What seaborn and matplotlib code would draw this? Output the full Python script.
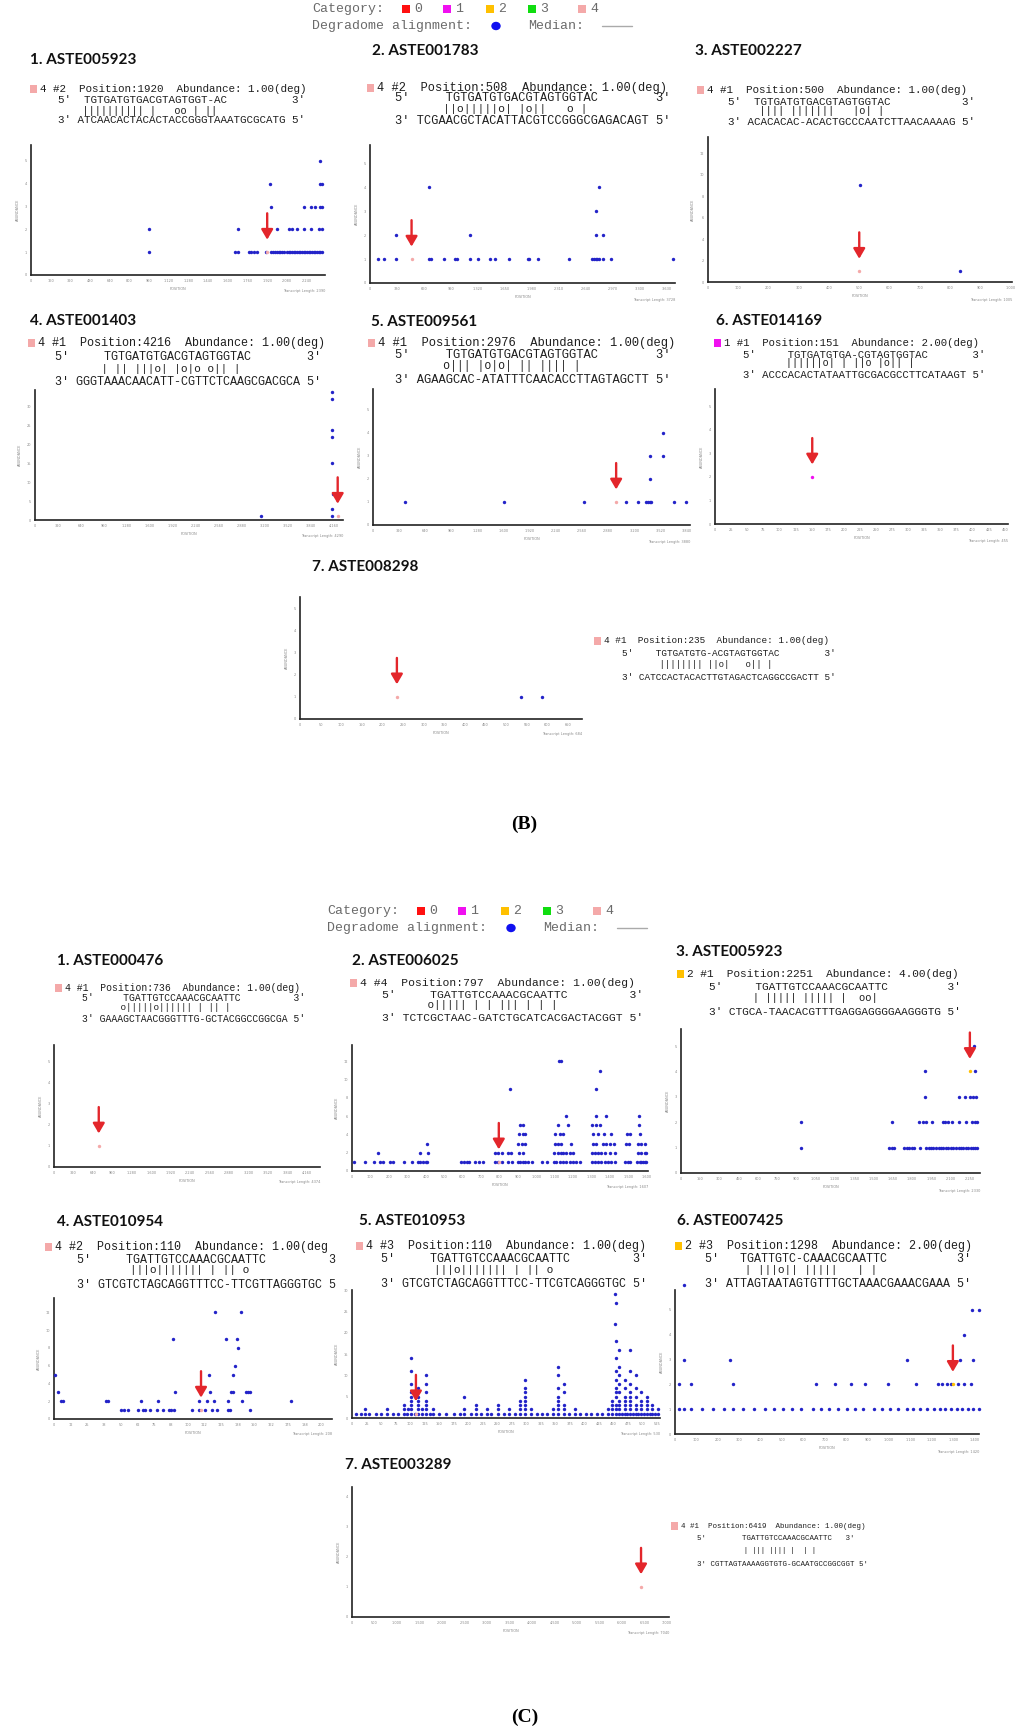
"""
Degradome t-plots for miRNA targets, panels (B) and (C)
"""

import numpy as np
import pandas as pd
import matplotlib
matplotlib.use('Agg')
import matplotlib.pyplot as plt
from matplotlib.patches import Rectangle, Ellipse
from matplotlib.lines import Line2D
import seaborn as sns

# ---------------- data ----------------
CATEGORIES = [0, 1, 2, 3, 4]

# dots: abundance -> positions ; site: (position, abundance, category)
B1_DOTS = {1: [960, 1662, 1679, 1776, 1790, 1809, 1836, 1909, 1950, 1965, 1980, 1999, 2015, 2026, 2040, 2053,
               2085, 2095, 2107, 2120, 2134, 2147, 2161, 2175, 2189, 2202, 2216, 2229, 2243, 2256, 2270, 2283,
               2297, 2310, 2324, 2338, 2346, 2365],
           2: [960, 1679, 1999, 2094, 2121, 2161, 2221, 2275, 2338, 2365],
           3: [1950, 2221, 2275, 2311, 2346, 2365],
           4: [1945, 2346, 2365],
           5: [2346]}
B1_SITE = (1920, 1, 4)
B1_HIT = ('4 #2  Position:1920  Abundance: 1.00(deg)', 'TGTGATGTGACGTAGTGGT-AC',
          '|||||||||| |   oo | ||', 'ATCAACACTACACTACCGGGTAAATGCGCATG')
B1_LEN = 2390

B2_DOTS = {1: [94, 175, 314, 725, 740, 908, 1039, 1059, 1222, 1324, 1467, 1528, 1699, 1927, 1947, 2049, 2436,
               2717, 2738, 2758, 2778, 2799, 2844, 2941, 3707],
           2: [314, 1222, 2758, 2844],
           3: [2758],
           4: [725, 2799]}
B2_SITE = (508, 1, 4)
B2_HIT = ('4 #2  Position:508  Abundance: 1.00(deg)', 'TGTGATGTGACGTAGTGGTAC',
          '||o|||||o| |o||   o |', 'TCGAACGCTACATTACGTCCGGGCGAGACAGT')
B2_LEN = 3728

B3_DOTS = {9: [502], 1: [833]}
B3_SITE = (500, 1, 4)
B3_HIT = ('4 #1  Position:500  Abundance: 1.00(deg)', 'TGTGATGTGACGTAGTGGTAC',
          '|||| |||||||   |o| |', 'ACACACAC-ACACTGCCCAATCTTAACAAAAG')
B3_LEN = 1005

B4_DOTS = {34: [4137], 32: [4137], 24: [4137], 22: [4137], 15: [4137], 7: [4150], 3: [4137], 1: [3154, 4137]}
B4_SITE = (4216, 1, 4)
B4_HIT = ('4 #1  Position:4216  Abundance: 1.00(deg)', 'TGTGATGTGACGTAGTGGTAC',
          '| || |||o| |o|o o|| |', 'GGGTAAACAACATT-CGTTCTCAAGCGACGCA')
B4_LEN = 4290

B5_DOTS = {1: [387, 1600, 2577, 3102, 3249, 3346, 3367, 3387, 3408, 3684, 3827],
           2: [3387], 3: [3387, 3554], 4: [3554]}
B5_SITE = (2976, 1, 4)
B5_HIT = ('4 #1  Position:2976  Abundance: 1.00(deg)', 'TGTGATGTGACGTAGTGGTAC',
          'o||| |o|o| || |||| |', 'AGAAGCAC-ATATTTCAACACCTTAGTAGCTT')
B5_LEN = 3880

B6_DOTS = {}
B6_SITE = (151, 2, 1)
B6_HIT = ('1 #1  Position:151  Abundance: 2.00(deg)', 'TGTGATGTGA-CGTAGTGGTAC',
          '||||||o| | ||o |o|| |', 'ACCCACACTATAATTGCGACGCCTTCATAAGT')
B6_LEN = 455

B7_DOTS = {1: [537, 587]}
B7_SITE = (235, 1, 4)
B7_HIT = ('4 #1  Position:235  Abundance: 1.00(deg)', 'TGTGATGTG-ACGTAGTGGTAC',
          '|||||||| ||o|   o|| |', 'CATCCACTACACTTGTAGACTCAGGCCGACTT')
B7_LEN = 684

C1_DOTS = {}
C1_SITE = (736, 1, 4)
C1_HIT = ('4 #1  Position:736  Abundance: 1.00(deg)', 'TGATTGTCCAAACGCAATTC',
          'o|||||o|||||| | || |', 'GAAAGCTAACGGGTTTG-GCTACGGCCGGCGA')
C1_LEN = 4374

C2_DOTS = {1: [13, 72, 121, 153, 171, 208, 220, 280, 325, 356, 370, 384, 401, 406, 590, 608, 623, 637, 668, 691,
               713, 776, 794, 812, 848, 866, 903, 912, 926, 939, 957, 975, 1034, 1056, 1097, 1110, 1128, 1146,
               1164, 1182, 1200, 1218, 1236, 1303, 1318, 1336, 1354, 1372, 1390, 1408, 1426, 1484, 1498, 1511,
               1549, 1561, 1570, 1579, 1588, 1597],
           2: [139, 370, 410, 776, 794, 812, 848, 861, 908, 926, 1097, 1119, 1132, 1146, 1164, 1182, 1200, 1303,
               1318, 1336, 1354, 1372, 1399, 1426, 1552, 1570, 1588, 1597],
           3: [406, 903, 921, 939, 1101, 1119, 1137, 1191, 1309, 1327, 1363, 1381, 1402, 1421, 1489, 1504, 1552,
               1570, 1588],
           4: [908, 926, 939, 1101, 1128, 1146, 1309, 1336, 1368, 1408, 1493, 1507, 1561],
           5: [912, 930, 1119, 1173, 1303, 1323, 1345, 1556],
           6: [1164, 1327, 1377, 1558],
           9: [857, 1323],
           11: [1345],
           12: [1125, 1137]}
C2_SITE = (797, 1, 4)
C2_HIT = ('4 #4  Position:797  Abundance: 1.00(deg)', 'TGATTGTCCAAACGCAATTC',
          'o||||| | | ||| | | |', 'TCTCGCTAAC-GATCTGCATCACGACTACGGT')
C2_LEN = 1607

C3_DOTS = {1: [939, 1624, 1642, 1658, 1740, 1758, 1779, 1800, 1818, 1862, 1908, 1929, 1947, 1965, 1986, 2007,
               2025, 2043, 2064, 2082, 2102, 2121, 2141, 2167, 2185, 2201, 2219, 2237, 2258, 2276, 2291, 2309],
           2: [939, 1642, 1857, 1883, 1908, 1955, 2038, 2058, 2079, 2115, 2167, 2219, 2271, 2291, 2309],
           3: [1901, 2167, 2214, 2250, 2278, 2296],
           4: [1901, 2291],
           5: [2283]}
C3_SITE = (2251, 4, 2)
C3_HIT = ('2 #1  Position:2251  Abundance: 4.00(deg)', 'TGATTGTCCAAACGCAATTC',
          '| ||||| ||||| |  oo|', 'CTGCA-TAACACGTTTGAGGAGGGGAAGGGTG')
C3_LEN = 2330

C4_DOTS = {1: [50.5, 52.25, 55.5, 62.5, 66.25, 68, 71.75, 76.75, 81.75, 86, 87.5, 90, 103, 108.75, 113, 118.5,
               122.25, 130.5, 131.75, 146.75],
           2: [5.5, 6.75, 38.75, 40.5, 65, 78, 108.75, 114.75, 119.75, 130, 141, 177.5],
           3: [3, 90.5, 116.75, 132.5, 134.25, 143.5, 145.5, 146.75],
           5: [0.5, 116.25, 133.75],
           6: [135.5],
           8: [137.5],
           9: [88.75, 128.75, 136.75],
           12: [120.5, 139.75]}
C4_SITE = (110, 1, 4)
C4_HIT = ('4 #2  Position:110  Abundance: 1.00(deg)', 'TGATTGTCCAAACGCAATTC',
          '|||o||||||| | || o', 'GTCGTCTAGCAGGTTTCC-TTCGTTAGGGTGC')
C4_LEN = 208

C5_DOTS = {1: [7, 15, 22, 30, 41, 50, 60, 70, 79, 89, 95, 102, 108, 114, 121, 127, 135, 140, 150, 162, 175, 186,
               193, 205, 213, 222, 232, 240, 251, 262, 270, 280, 289, 298, 308, 318, 327, 336, 346, 355, 365, 374,
               384, 393, 403, 412, 422, 431, 441, 447, 454, 460, 465, 469, 474, 479, 484, 488, 493, 498, 503, 508,
               512, 517, 522, 527],
           2: [22, 60, 89, 96, 102, 114, 121, 127, 140, 193, 213, 232, 251, 270, 289, 298, 308, 346, 355, 365, 384,
               441, 447, 454, 460, 469, 479, 488, 498, 508, 517, 527],
           3: [89, 102, 114, 127, 213, 251, 289, 298, 355, 365, 447, 454, 460, 469, 479, 488, 498, 508, 517],
           4: [102, 114, 127, 289, 298, 355, 447, 460, 469, 479, 498, 508],
           5: [102, 114, 193, 298, 355, 454, 469, 479, 488, 508],
           6: [102, 127, 298, 365, 454, 460, 479, 498],
           7: [114, 298, 355, 454, 469, 488],
           8: [102, 127, 365, 460, 479],
           9: [298, 454, 469],
           10: [127, 355, 460, 488],
           11: [102, 454, 479],
           12: [355, 460],
           14: [102, 454],
           16: [460, 479],
           18: [454],
           22: [452],
           27: [454],
           29: [452]}
C5_SITE = (110, 1, 4)
C5_HIT = ('4 #3  Position:110  Abundance: 1.00(deg)', 'TGATTGTCCAAACGCAATTC',
          '|||o||||||| | || o', 'GTCGTCTAGCAGGTTTCC-TTCGTCAGGGTGC')
C5_LEN = 530

C6_DOTS = {1: [18, 44, 75, 127, 179, 230, 272, 318, 370, 421, 463, 504, 545, 587, 644, 680, 721, 762, 804, 840,
               876, 928, 969, 1005, 1041, 1083, 1114, 1144, 1176, 1212, 1237, 1263, 1289, 1315, 1341, 1367, 1392,
               1418],
           2: [18, 75, 272, 659, 747, 824, 886, 995, 1124, 1227, 1248, 1269, 1289, 1320, 1351, 1382],
           3: [44, 256, 1083, 1330, 1392],
           4: [1351],
           5: [1387, 1418],
           6: [44]}
C6_SITE = (1298, 2, 2)
C6_HIT = ('2 #3  Position:1298  Abundance: 2.00(deg)', 'TGATTGTC-CAAACGCAATTC',
          '| |||o|| |||||   | |', 'ATTAGTAATAGTGTTTGCTAAACGAAACGAAA')
C6_LEN = 1420

C7_DOTS = {}
C7_SITE = (6419, 1, 4)
C7_HIT = ('4 #1  Position:6419  Abundance: 1.00(deg)', 'TGATTGTCCAAACGCAATTC',
          '| ||| |||| |  | |', 'CGTTAGTAAAAGGTGTG-GCAATGCCGGCGGT')
C7_LEN = 7040

# ---------------- style ----------------
W, H = 1024, 1734
BLUE = '#2323c8'
RED = '#e3262b'
CAT_COLORS = ['#ff1010', '#f010f0', '#ffc000', '#10dd10', '#f4a9a9']
TXT = '#1e1e1e'
LEG = '#6a6a6a'
MONO = ['Liberation Mono', 'DejaVu Sans Mono']
TITLE_FONT = ['Lato', 'DejaVu Sans']

sns.set_style('white')
plt.rcParams['font.family'] = ['DejaVu Sans']

fig = plt.figure(figsize=(W / 100, H / 100), dpi=100)


def put(x, y, s, size, **kw):
    fig.text(x / W, 1 - y / H, s, fontsize=size, va='center', ha='left', **kw)


def square(x, y, w, h, color):
    fig.add_artist(Rectangle((x / W, 1 - (y + h / 2) / H), w / W, h / H,
                             transform=fig.transFigure, color=color, lw=0))


def legend(dx, dy):
    put(312 + dx, 9 + dy, 'Category:', 9.5, family=MONO, color=LEG)
    for c, xs in zip(CATEGORIES, [402, 443, 486, 528, 578]):
        square(xs + dx, 9 + dy, 8, 8, CAT_COLORS[c])
        put(xs + 12 + dx, 9 + dy, str(c), 9.5, family=MONO, color=LEG)
    put(312 + dx, 26 + dy, 'Degradome alignment:', 9.5, family=MONO, color=LEG)
    fig.add_artist(Ellipse(((496 + dx) / W, 1 - (26 + dy) / H), 8 / W, 7 / H,
                           transform=fig.transFigure, color='#1010f0'))
    put(528 + dx, 26 + dy, 'Median:', 9.5, family=MONO, color=LEG)
    fig.add_artist(Line2D([(602 + dx) / W, (632 + dx) / W], [1 - (26 + dy) / H] * 2,
                          transform=fig.transFigure, color='#aaaaaa', lw=1))


def alignment(lay, site, hit):
    sqx, x5, pitch, (y1, y2, yb, y4) = lay['sq'], lay['x5'], lay['pitch'], lay['rows']
    scol, bcol = lay['cols']
    end = lay.get('end', 36)
    size = pitch * 1.2
    line1, srna, bars, target = hit
    line2 = "5'" + ' ' * (scol - 2) + srna
    line2 = line2 + ' ' * (end - len(line2)) + "3'"
    line4 = "3' " + target + " 5'"
    if lay.get('trim'):
        line1, line2, line4 = line1[:-1], line2[:-1], line4[:-1]
    square(sqx, y1, 7, 8, CAT_COLORS[site[2]])
    kw = dict(family=MONO, color=TXT)
    put(sqx + 10, y1, line1, size, **kw)
    put(x5, y2, line2, size, **kw)
    put(x5, yb - 1, ' ' * bcol + bars, size * 0.95, **kw)
    put(x5, y4, line4, size, **kw)


def tplot(lay, dots, site, tlen):
    x0, y0, x1, y1 = lay['ax']
    xstep, ymax, ystep = lay['xstep'], lay['ymax'], lay['ystep']
    ax = fig.add_axes([x0 / W, 1 - y1 / H, (x1 - x0) / W, (y1 - y0) / H])
    ax.patch.set_alpha(0)
    rows = [(p, a) for a, ps in dots.items() for p in ps]
    df = pd.DataFrame(rows, columns=['position', 'abundance'])
    if len(df):
        sns.scatterplot(data=df, x='position', y='abundance', color=BLUE, s=6, linewidth=0,
                        ax=ax, legend=False, clip_on=False, zorder=3)
    sns.scatterplot(x=[site[0]], y=[site[1]], color=CAT_COLORS[site[2]], s=6, linewidth=0,
                    ax=ax, legend=False, clip_on=False, zorder=4)
    ax.annotate('', xy=(site[0], site[1]), xytext=(0, 28), textcoords='offset points',
                arrowprops=dict(arrowstyle='-|>,head_length=0.6,head_width=0.35', color=RED,
                                lw=1.7, shrinkA=0, shrinkB=9), zorder=5)
    ax.set_xlim(0, tlen)
    ax.set_ylim(0, ymax)
    xt = np.arange(0, tlen + 1e-6, xstep)
    yt = np.arange(0, ymax + 1e-6, ystep)
    ax.set_xticks(xt)
    ax.set_yticks(yt)
    ax.set_xticklabels([f'{v:,.0f}' for v in xt], fontsize=2.5, color='#888888')
    ax.set_yticklabels([f'{v:.0f}' for v in yt], fontsize=2.5, color='#888888')
    ax.tick_params(direction='inout', length=3, width=0.8, pad=1.5, colors='#333333',
                   labelcolor='#888888')
    sns.despine(ax=ax)
    for s in ('left', 'bottom'):
        ax.spines[s].set_linewidth(1.2)
        ax.spines[s].set_color('#222222')
    ax.set_xlabel('POSITION', fontsize=2.5, color='#888888', labelpad=3)
    ax.set_ylabel('ABUNDANCE', fontsize=2.5, color='#888888', labelpad=3)
    ax.text(1.0, -0.11, f'Transcript Length: {tlen}', transform=ax.transAxes, ha='right',
            va='top', fontsize=2.5, color='#888888')
    return ax


# ---------------- layout (pixels) ----------------
PANELS = [
    ('1. ASTE005923', (30, 60), B1_DOTS, B1_SITE, B1_HIT, B1_LEN,
     dict(sq=30, x5=58, pitch=6.5, rows=(89, 100, 112, 120), cols=(4, 4),
          ax=(31, 145, 325, 275), xstep=160, ymax=5.7, ystep=1)),
    ('2. ASTE001783', (372, 51), B2_DOTS, B2_SITE, B2_HIT, B2_LEN,
     dict(sq=367, x5=395, pitch=7.2, rows=(88, 98, 110, 121), cols=(7, 7),
          ax=(370, 145, 675, 283), xstep=330, ymax=5.77, ystep=1)),
    ('3. ASTE002227', (695, 51), B3_DOTS, B3_SITE, B3_HIT, B3_LEN,
     dict(sq=697, x5=728, pitch=6.55, rows=(90, 102, 112, 122), cols=(4, 5),
          ax=(708, 137, 1012, 282), xstep=100, ymax=13.5, ystep=2)),
    ('4. ASTE001403', (30, 321), B4_DOTS, B4_SITE, B4_HIT, B4_LEN,
     dict(sq=28, x5=55, pitch=7.05, rows=(343, 357, 370, 382), cols=(7, 7),
          ax=(35, 390, 343, 520), xstep=320, ymax=34.5, ystep=5)),
    ('5. ASTE009561', (371, 322), B5_DOTS, B5_SITE, B5_HIT, B5_LEN,
     dict(sq=368, x5=395, pitch=7.3, rows=(343, 355, 367, 380), cols=(7, 7),
          ax=(373, 389, 690, 525), xstep=320, ymax=5.9, ystep=1)),
    ('6. ASTE014169', (716, 321), B6_DOTS, B6_SITE, B6_HIT, B6_LEN,
     dict(sq=714, x5=743, pitch=6.4, rows=(343, 355, 364, 375), cols=(7, 7),
          ax=(715, 389, 1008, 524), xstep=25, ymax=5.74, ystep=1)),
    ('7. ASTE008298', (312, 567), B7_DOTS, B7_SITE, B7_HIT, B7_LEN,
     dict(sq=594, x5=622, pitch=5.6, rows=(641, 654, 666, 678), cols=(6, 7),
          ax=(300, 597, 582, 719), xstep=50, ymax=5.5, ystep=1)),
    ('1. ASTE000476', (57, 961), C1_DOTS, C1_SITE, C1_HIT, C1_LEN,
     dict(sq=55, x5=82, pitch=5.85, rows=(988, 998, 1009, 1019), cols=(7, 7),
          ax=(54, 1045, 320, 1167), xstep=320, ymax=5.8, ystep=1)),
    ('2. ASTE006025', (352, 961), C2_DOTS, C2_SITE, C2_HIT, C2_LEN,
     dict(sq=350, x5=382, pitch=6.85, rows=(983, 995, 1006, 1018), cols=(7, 7),
          ax=(352, 1045, 648, 1171), xstep=100, ymax=13.8, ystep=2)),
    ('3. ASTE005923', (676, 952), C3_DOTS, C3_SITE, C3_HIT, C3_LEN,
     dict(sq=677, x5=709, pitch=6.66, rows=(974, 987, 999, 1012), cols=(7, 7),
          ax=(681, 1029, 980, 1173), xstep=150, ymax=5.67, ystep=1)),
    ('4. ASTE010954', (57, 1222), C4_DOTS, C4_SITE, C4_HIT, C4_LEN,
     dict(sq=45, x5=77, pitch=7.0, rows=(1247, 1260, 1271, 1285), cols=(7, 8), trim=True,
          ax=(54, 1298, 332, 1419), xstep=12.5, ymax=13.6, ystep=2)),
    ('5. ASTE010953', (359, 1221), C5_DOTS, C5_SITE, C5_HIT, C5_LEN,
     dict(sq=356, x5=381, pitch=7.0, rows=(1246, 1259, 1271, 1284), cols=(7, 8),
          ax=(352, 1290, 660, 1418), xstep=25, ymax=30, ystep=5)),
    ('6. ASTE007425', (677, 1221), C6_DOTS, C6_SITE, C6_HIT, C6_LEN,
     dict(sq=675, x5=705, pitch=7.0, rows=(1246, 1259, 1271, 1284), cols=(5, 6),
          ax=(675, 1290, 979, 1434), xstep=100, ymax=5.8, ystep=1)),
    ('7. ASTE003289', (345, 1465), C7_DOTS, C7_SITE, C7_HIT, C7_LEN,
     dict(sq=671, x5=697, pitch=4.5, rows=(1526, 1539, 1552, 1565), cols=(10, 11), end=33,
          ax=(352, 1487, 669, 1617), xstep=500, ymax=4.3, ystep=1)),
]

legend(0, 0)
legend(15, 902)

for title, (tx, ty), dots, site, hit, tlen, lay in PANELS:
    put(tx, ty, title, 11, family=TITLE_FONT, fontweight='bold', color='#111111')
    alignment(lay, site, hit)
    tplot(lay, dots, site, tlen)

put(511, 824, '(B)', 14, family=['Liberation Serif', 'DejaVu Serif'], fontweight='bold', color='black')
put(511, 1717, '(C)', 14, family=['Liberation Serif', 'DejaVu Serif'], fontweight='bold', color='black')

fig.savefig('out.png', dpi=100)
